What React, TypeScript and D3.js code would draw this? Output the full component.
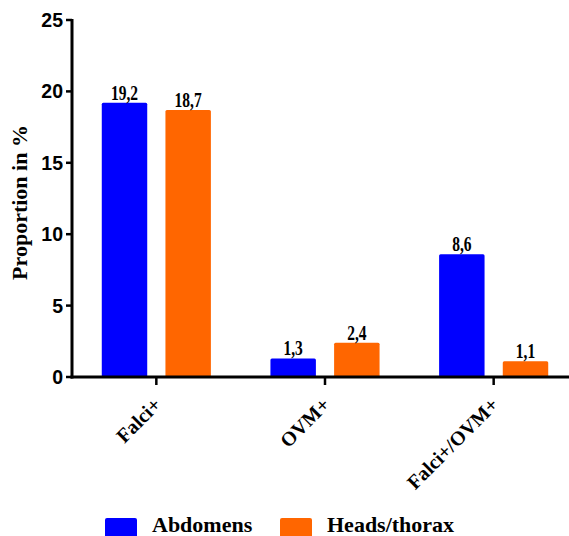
import * as d3 from 'd3';

const categories = ['Falci+', 'OVM+', 'Falci+/OVM+'];
const seriesNames = ['Abdomens', 'Heads/thorax'];
const abdomens = [19.2, 1.3, 8.6];
const headsThorax = [18.7, 2.4, 1.1];
const yTicks = [0, 5, 10, 15, 20, 25];
const colors = ['#0000ff', '#ff6600'];

const W = 569;
const H = 536;
const margin = { left: 72, top: 20, bottom: 377 };

const serif = 'Liberation Serif, Tinos, DejaVu Serif, serif';
const sans = 'Liberation Sans, Arimo, Arial, sans-serif';

export default function App() {
  const values = [abdomens, headsThorax];

  const y = d3.scaleLinear().domain([0, 25]).range([margin.bottom, margin.top]);
  const x0 = d3.scaleBand<string>()
    .domain(categories)
    .range([margin.left, 578])
    .paddingInner(0.353)
    .paddingOuter(0.1765);
  const x1 = d3.scaleBand<string>()
    .domain(seriesNames)
    .range([0, x0.bandwidth()])
    .paddingInner(0.286);

  return (
    <svg width={W} height={H} style={{ position: 'absolute', left: 0, top: 0, background: '#fff' }}>
      {/* bars */}
      {categories.map((c, i) =>
        seriesNames.map((s, j) => {
          const v = values[j][i];
          const bx = (x0(c) ?? 0) + (x1(s) ?? 0);
          const by = y(v);
          return (
            <g key={c + s}>
              <rect x={bx} y={by} width={x1.bandwidth()} height={y(0) - by} fill={colors[j]} rx={1.5} />
              <text
                transform={`translate(${bx + x1.bandwidth() / 2},${by - 3}) scale(1,1.3)`}
                textAnchor="middle"
                style={{ fontFamily: serif, fontWeight: 'bold', fontSize: '15.5px' }}
                fill="#000"
              >
                {v.toFixed(1).replace('.', ',')}
              </text>
            </g>
          );
        })
      )}

      {/* y axis */}
      <line x1={margin.left} x2={margin.left} y1={y(25) - 1} y2={y(0) + 1.5} stroke="#000" strokeWidth={3} />
      {yTicks.map((t) => (
        <g key={t}>
          <line x1={margin.left - 6} x2={margin.left} y1={y(t)} y2={y(t)} stroke="#000" strokeWidth={2.5} />
          <text
            x={margin.left - 9}
            y={y(t)}
            dy="0.36em"
            textAnchor="end"
            style={{ fontFamily: sans, fontWeight: 'bold', fontSize: '19.5px' }}
            fill="#000"
          >
            {t}
          </text>
        </g>
      ))}

      {/* x axis */}
      <line x1={margin.left - 1.5} x2={W} y1={y(0)} y2={y(0)} stroke="#000" strokeWidth={3} />
      {categories.map((c) => {
        const cx = (x0(c) ?? 0) + x0.bandwidth() / 2;
        return (
          <g key={c}>
            <line x1={cx} x2={cx} y1={y(0)} y2={y(0) + 8} stroke="#000" strokeWidth={2.5} />
            <text
              transform={`translate(${cx + 6},${y(0) + 29}) rotate(-45)`}
              textAnchor="end"
              style={{ fontFamily: serif, fontWeight: 'bold', fontSize: '20px' }}
              fill="#000"
            >
              {c}
            </text>
          </g>
        );
      })}

      {/* y title */}
      <text
        transform={`translate(27,${(margin.top + margin.bottom) / 2 + 4}) rotate(-90)`}
        textAnchor="middle"
        style={{ fontFamily: serif, fontWeight: 'bold', fontSize: '22px' }}
        fill="#000"
      >
        Proportion in %
      </text>

      {/* legend */}
      {seriesNames.map((s, j) => {
        const lx = [105, 280][j];
        return (
          <g key={s}>
            <rect x={lx} y={518} width={32} height={22} fill={colors[j]} rx={2} />
            <text
              x={lx + 47}
              y={532}
              style={{ fontFamily: serif, fontWeight: 'bold', fontSize: '22px' }}
              fill="#000"
            >
              {s}
            </text>
          </g>
        );
      })}
    </svg>
  );
}
